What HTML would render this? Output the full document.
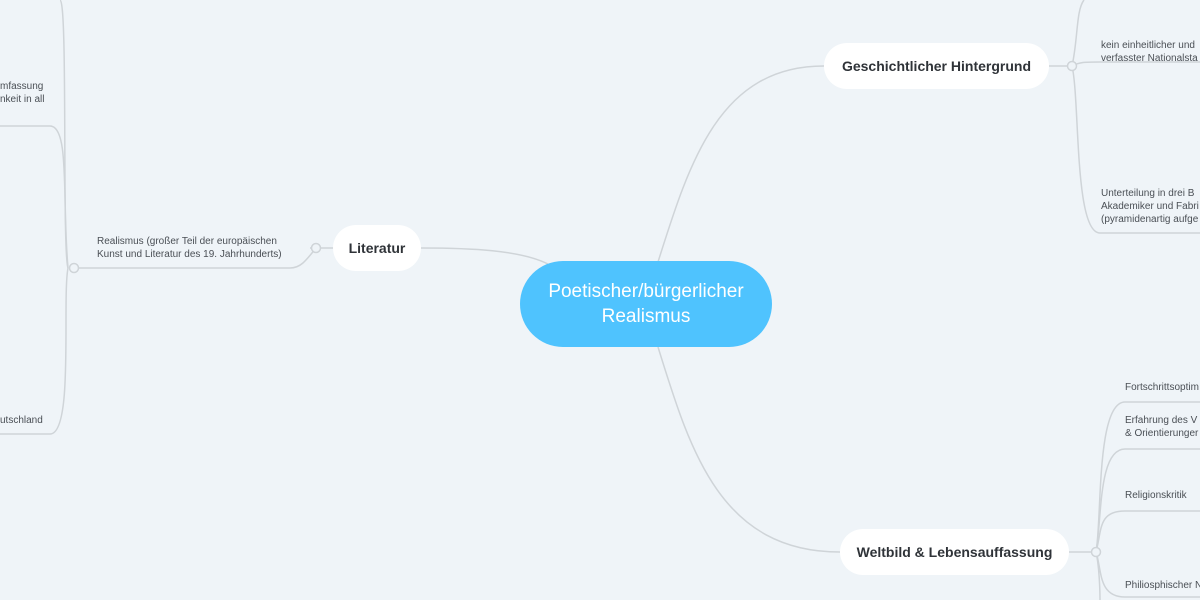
<!DOCTYPE html>
<html><head><meta charset="utf-8"><style>
body{margin:0;width:1200px;height:600px;background:#eff4f8;overflow:hidden;position:relative;font-family:"Liberation Sans","DejaVu Sans",sans-serif}
.t{position:absolute;font-size:10px;color:#4a4f55;line-height:13px;white-space:nowrap}
.n{position:absolute;background:#fff;border-radius:23px;font-weight:bold;font-size:14px;color:#2f3338;display:flex;align-items:center;justify-content:center}
svg{position:absolute;left:0;top:0}
</style></head><body>
<svg width="1200" height="600" fill="none" stroke="#cfd4d8" stroke-width="1.5">
<path d="M548 264 C520 250,470 248,421 248"/>
<path d="M658 262 C690 160,720 66,824 66"/>
<path d="M658 347 C690 450,720 552,840 552"/>
<path d="M421 248 L310 248"/>
<path d="M316 248 C305 262,300 268,290 268 L74 268"/>
<path d="M68 268 C62 250,68 0,60 0"/>
<path d="M68 268 C62 200,70 126,50 126 L0 126"/>
<path d="M68 268 C62 300,74 434,50 434 L0 434"/>
<path d="M1049 66 L1072 66"/>
<path d="M1072 66 C1078 40,1076 10,1084 0"/>
<path d="M1072 66 C1080 62,1084 62,1100 62 L1200 62"/>
<path d="M1072 66 C1080 100,1074 233,1100 233 L1200 233"/>
<path d="M1069 552 L1096 552"/>
<path d="M1096 552 C1102 520,1096 402,1125 402 L1200 402"/>
<path d="M1096 552 C1102 520,1098 449,1125 449 L1200 449"/>
<path d="M1096 552 C1102 530,1098 511,1125 511 L1200 511"/>
<path d="M1096 552 C1102 570,1098 597,1125 597 L1200 597"/>
<path d="M1096 552 C1100 570,1100 600,1100 600"/>
<g fill="#eff4f8"><circle cx="316" cy="248" r="4.5"/><circle cx="74" cy="268" r="4.5"/><circle cx="1072" cy="66" r="4.5"/><circle cx="1096" cy="552" r="4.5"/></g>
</svg>
<div style="position:absolute;left:520px;top:261px;width:252px;height:86px;border-radius:43px;background:#4fc3fe;color:#fff;font-size:19px;line-height:25px;text-align:center;display:flex;align-items:center;justify-content:center">Poetischer/bürgerlicher<br>Realismus</div>
<div class="n" style="left:333px;top:225px;width:88px;height:46px">Literatur</div>
<div class="n" style="left:824px;top:43px;width:225px;height:46px">Geschichtlicher Hintergrund</div>
<div class="n" style="left:840px;top:529px;width:229px;height:46px">Weltbild &amp; Lebensauffassung</div>
<div class="t" style="left:97px;top:235px">Realismus (großer Teil der europäischen<br>Kunst und Literatur des 19. Jahrhunderts)</div>
<div class="t" style="left:0;top:80px">mfassung<br>nkeit in all</div>
<div class="t" style="left:0;top:414px">utschland</div>
<div class="t" style="left:1101px;top:39px">kein einheitlicher und<br>verfasster Nationalsta</div>
<div class="t" style="left:1101px;top:187px">Unterteilung in drei B<br>Akademiker und Fabri<br>(pyramidenartig aufge</div>
<div class="t" style="left:1125px;top:381px">Fortschrittsoptim</div>
<div class="t" style="left:1125px;top:414px">Erfahrung des V<br>&amp; Orientierunger</div>
<div class="t" style="left:1125px;top:489px">Religionskritik</div>
<div class="t" style="left:1125px;top:579px">Philiosphischer N</div>
</body></html>
